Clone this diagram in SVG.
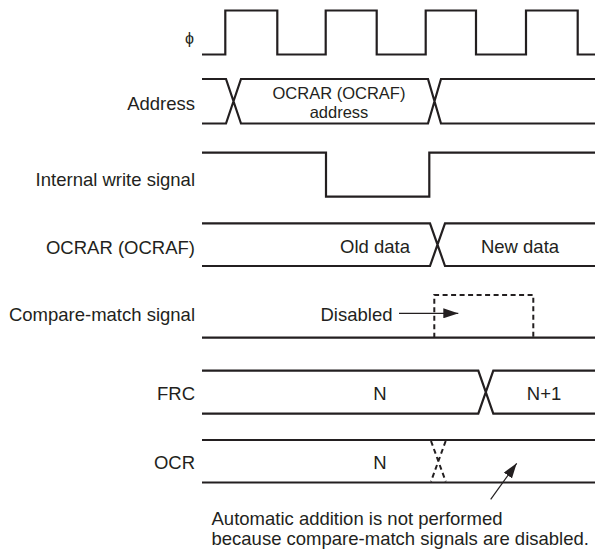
<svg xmlns="http://www.w3.org/2000/svg" width="595" height="553" viewBox="0 0 595 553">
<defs>
<style>
.w{fill:none;stroke:#231f20;stroke-width:2.2;stroke-linejoin:miter}
.d{fill:none;stroke:#231f20;stroke-width:2;stroke-dasharray:5 3.5}
.t{font-family:"Liberation Sans",Arial,sans-serif;font-size:18.5px;fill:#231f20}
.s{font-size:16.5px}
.l{text-anchor:end}
.c{text-anchor:middle}
.a{fill:none;stroke:#231f20;stroke-width:1.2}
</style>
<marker id="ah" viewBox="0 0 15 10" refX="15" refY="5" markerWidth="15" markerHeight="10" markerUnits="userSpaceOnUse" orient="auto">
<path d="M0,0 L15,5 L0,10 Z" fill="#231f20"/>
</marker>
</defs>
<rect width="595" height="553" fill="#ffffff"/>
<g id="labels">
<text class="t l" x="194" y="44" style="font-family:'Liberation Sans','DejaVu Sans',sans-serif;font-size:16px">ϕ</text>
<text class="t l" x="195" y="110">Address</text>
<text class="t l" x="195" y="186">Internal write signal</text>
<text class="t l" x="195" y="254">OCRAR (OCRAF)</text>
<text class="t l" x="195" y="321">Compare-match signal</text>
<text class="t l" x="195" y="400">FRC</text>
<text class="t l" x="195" y="469">OCR</text>
</g>
<g id="clock">
<path class="w" d="M202,54.5 H225.3 V10.5 H277.3 V54.5 H325.7 V10.5 H376.7 V54.5 H425.7 V10.5 H476 V54.5 H526 V10.5 H577.7 V54.5 H595"/>
</g>
<g id="address">
<path class="w" d="M202,79 H226 L241,123.5 H428 L441,79 H595 M202,123.5 H226 L241,79 H428 L441,123.5 H595"/>
<text class="t c s" x="339" y="99">OCRAR (OCRAF)</text>
<text class="t c s" x="339" y="118">address</text>
</g>
<g id="write">
<path class="w" d="M202,152.7 H326 V196.7 H429.3 V152.7 H595"/>
</g>
<g id="ocrar">
<path class="w" d="M202,223.3 H430 L445,266 H595 M202,266 H430 L445,223.3 H595"/>
<text class="t c" x="375" y="253">Old data</text>
<text class="t c" x="520" y="253">New data</text>
</g>
<g id="compare">
<path class="w" d="M202,337.7 H595"/>
<path class="d" d="M434.3,337.7 V295 H533.3 V337.7"/>
<text class="t" x="320.5" y="321">Disabled</text>
</g>
<g id="frc">
<path class="w" d="M202,370.7 H478.3 L493.3,413.7 H595 M202,413.7 H478.3 L493.3,370.7 H595"/>
<text class="t c" x="380" y="399.5">N</text>
<text class="t c" x="544" y="399.5">N+1</text>
</g>
<g id="ocr">
<path class="w" d="M202,440 H595 M202,482.5 H595"/>
<path class="d" d="M431,441 L445.7,481.5 M445.7,441 L431,481.5"/>
<text class="t c" x="380" y="468.5">N</text>
</g>
<g id="connectors">
<line class="a" x1="399" y1="313.3" x2="458.3" y2="313.3" marker-end="url(#ah)"/>
<line class="a" x1="490.7" y1="499.3" x2="516.7" y2="463.3" marker-end="url(#ah)"/>
</g>
<g id="note">
<text class="t" x="211.5" y="525">Automatic addition is not performed</text>
<text class="t" x="211.5" y="545">because compare-match signals are disabled.</text>
</g>
</svg>
